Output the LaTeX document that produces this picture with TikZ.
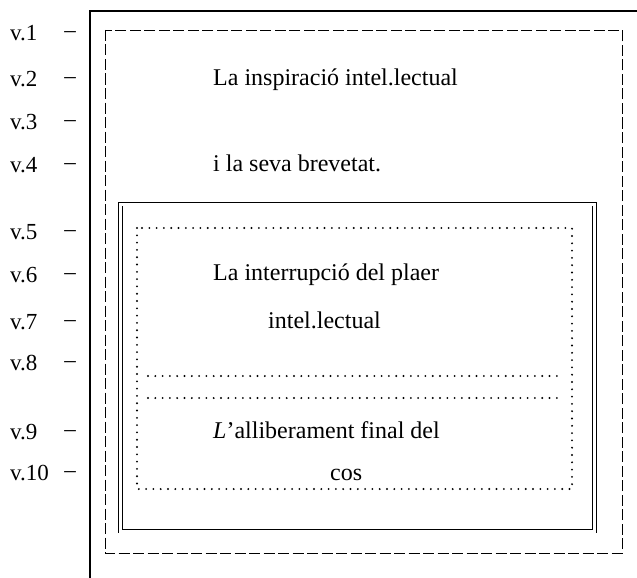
\documentclass[tikz,border=0pt]{standalone}
\usepackage{fontspec}
\setmainfont{Liberation Serif}
\begin{document}
\begin{tikzpicture}[x=1pt,y=-1pt,
  txt/.style={anchor=base west,inner sep=0pt,font=\fontsize{24}{28}\selectfont},
  vlab/.style={anchor=west,inner sep=0pt,font=\fontsize{23}{27}\selectfont},
  vdash/.style={inner sep=0pt,font=\fontsize{23}{27}\selectfont},
  framel/.style={line width=1.6pt},
  dashbox/.style={line width=0.9pt,dash pattern=on 11pt off 3.5pt},
  dblbox/.style={double,line width=0.9pt,double distance=3pt},
  dotbox/.style={line width=2.1pt,line cap=round,dash pattern=on 0pt off 7.3pt}]
\useasboundingbox (0,0) rectangle (637,578);
% outer open frame
\coordinate (fa) at (90,578);
\coordinate (fb) at (90,11);
\coordinate (fc) at (637,11);
\draw[framel] (fa) -- (fb) -- (fc);
% dashed box
\coordinate (d1) at (105,30);
\coordinate (d2) at (622,553);
\draw[dashbox] (d1) rectangle (d2);
% double box
\coordinate (b1) at (120.5,204);
\coordinate (b2) at (594.5,531);
\draw[dblbox] (b1) rectangle (b2);
% dotted box
\coordinate (p1) at (137,228);
\coordinate (p2) at (572,489);
\draw[dotbox] (p1) rectangle (p2);
\coordinate (l1a) at (148,376);
\coordinate (l1b) at (558,376);
\coordinate (l2a) at (148,398);
\coordinate (l2b) at (558,398);
\draw[dotbox] (l1a) -- (l1b);
\draw[dotbox] (l2a) -- (l2b);
% verse labels
\foreach \n/\y in {1/33,2/79,3/122,4/165,5/232,6/275,7/322,8/363,9/432} {
  \node[vlab] (v\n) at (10,\y) {v.\n};
  \node[vdash] (dv\n) at (70,\y+2) {–};
}
\node[vlab] (v10) at (10,473) {v.10};
\node[vdash] (dv10) at (70,475) {–};
% texts
\node[txt] (t1) at (213,85) {La inspiració intel.lectual};
\node[txt] (t2) at (213,171) {i la seva brevetat.};
\node[txt] (t3) at (213,280) {La interrupció del plaer};
\node[txt] (t4) at (268,328) {intel.lectual};
\node[txt] (t5) at (213,438) {\textit{L}’alliberament final del};
\node[txt] (t6) at (330,480) {cos};
\end{tikzpicture}
\end{document}
